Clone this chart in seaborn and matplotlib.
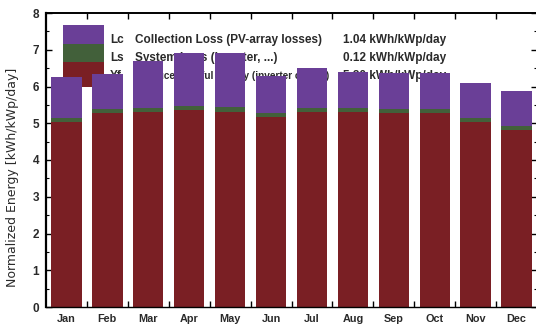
import matplotlib
matplotlib.use("Agg")
import matplotlib.pyplot as plt
from matplotlib.patches import Rectangle
from matplotlib.ticker import MultipleLocator, FixedLocator
import pandas as pd
import seaborn as sns

# Monthly normalized energy (kWh/kWp/day)
months = ["Jan", "Feb", "Mar", "Apr", "May", "Jun",
          "Jul", "Aug", "Sep", "Oct", "Nov", "Dec"]
yf = [5.03, 5.27, 5.30, 5.35, 5.30, 5.16, 5.30, 5.30, 5.27, 5.27, 5.03, 4.81]
ls = [0.11, 0.12, 0.12, 0.13, 0.13, 0.12, 0.12, 0.12, 0.12, 0.12, 0.11, 0.11]
lc = [1.11, 0.96, 1.28, 1.42, 1.47, 1.00, 1.08, 0.97, 0.97, 0.97, 0.95, 0.95]

legend_codes = ["Lc", "Ls", "Yf"]
legend_names = ["Collection Loss (PV-array losses)",
                "System Loss (inverter, ...)",
                "Produced useful energy (inverter output)"]
legend_values = ["1.04 kWh/kWp/day", "0.12 kWh/kWp/day", "5.20 kWh/kWp/day"]
name_sizes = [8.5, 8.5, 7.2]

y_ticks = [0, 1, 2, 3, 4, 5, 6, 7, 8]

c_lc = "#6a3f97"
c_ls = "#42603a"
c_yf = "#7a1f24"
text_color = "#2a2a2a"

df = pd.DataFrame({"month": months, "yf": yf, "ls": ls, "lc": lc})
df["yf_ls"] = df["yf"] + df["ls"]
df["total"] = df["yf_ls"] + df["lc"]

sns.set_theme(style="ticks")
plt.rcParams["font.family"] = ["Liberation Sans", "DejaVu Sans"]

fig = plt.figure(figsize=(5.36, 3.26), dpi=100)
ax = fig.add_axes([46 / 536, 19 / 326, 491 / 536, 294 / 326])

# stacked bars: draw cumulative totals from the top layer down
for col, color in [("total", c_lc), ("yf_ls", c_ls), ("yf", c_yf)]:
    sns.barplot(data=df, x="month", y=col, order=months, color=color,
                width=0.74, saturation=1, errorbar=None, linewidth=0, ax=ax)
for p in ax.patches:
    p.set_zorder(2)

# legend block sits behind the bars
swatches = [(0.895, 0.064, c_lc), (0.835, 0.060, c_ls), (0.748, 0.087, c_yf)]
for y0, h, color in swatches:
    ax.add_patch(Rectangle((0.035, y0), 0.084, h, transform=ax.transAxes,
                           facecolor=color, edgecolor="none", zorder=0.5))
rows_y = [0.908, 0.847, 0.786]
for code, name, val, yy, nsize in zip(legend_codes, legend_names,
                                      legend_values, rows_y, name_sizes):
    kw = dict(transform=ax.transAxes, va="center", ha="left",
              fontweight="bold", color=text_color, zorder=0.6)
    ax.text(0.130, yy, code, fontsize=8.5, **kw)
    ax.text(0.181, yy, name, fontsize=nsize, **kw)
    ax.text(0.605, yy, val, fontsize=8.5, **kw)

ax.set_xlim(-0.5, 11.5)
ax.set_ylim(0, 8)
ax.set_xlabel("")
ax.set_ylabel("")

ax.yaxis.set_major_locator(FixedLocator(y_ticks))
ax.yaxis.set_minor_locator(MultipleLocator(0.5))
ax.xaxis.set_minor_locator(FixedLocator([i + 0.5 for i in range(11)]))
ax.tick_params(axis="y", which="both", direction="in", left=True, right=True,
               color="black")
ax.tick_params(axis="y", which="major", length=4, width=1.0, pad=5,
               labelsize=8.5)
ax.tick_params(axis="y", which="minor", length=2.5, width=0.8)
ax.tick_params(axis="x", which="major", length=0, pad=5, labelsize=7.8)
ax.tick_params(axis="x", which="minor", direction="in", top=True,
               bottom=True, length=4, width=1.0, color="black")
for lab in ax.get_xticklabels() + ax.get_yticklabels():
    lab.set_fontweight("bold")
    lab.set_color(text_color)

for side in ["left", "top", "right", "bottom"]:
    ax.spines[side].set_visible(True)
    ax.spines[side].set_color("black")
ax.spines["left"].set_linewidth(1.6)
ax.spines["top"].set_linewidth(1.4)
ax.spines["bottom"].set_linewidth(1.0)
ax.spines["right"].set_linewidth(1.0)

fig.text(13 / 536, 1 - 177 / 326, "Normalized Energy [kWh/kWp/day]",
         rotation=90, ha="center", va="center", fontsize=9,
         family=["DejaVu Sans"], color=text_color)

fig.savefig("out.png", dpi=100)
